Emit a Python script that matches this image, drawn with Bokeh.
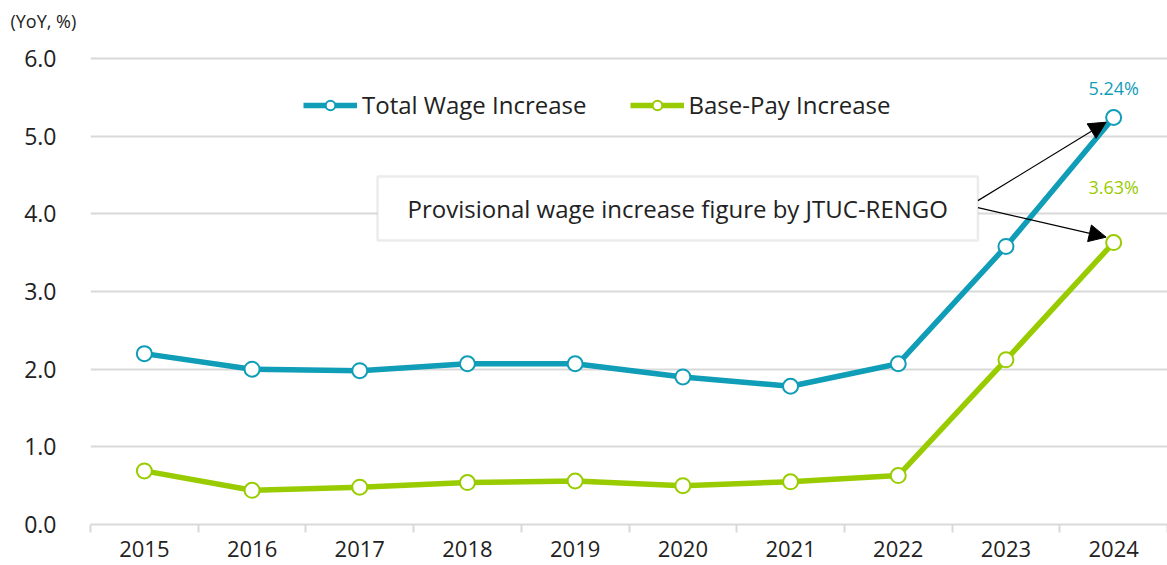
from bokeh.plotting import figure
from bokeh.models import (FixedTicker, NumeralTickFormatter, Legend, LegendItem,
                          Arrow, NormalHead, BoxAnnotation, Label, Range1d)
from bokeh.embed import file_html
from bokeh.resources import INLINE

years = [2015, 2016, 2017, 2018, 2019, 2020, 2021, 2022, 2023, 2024]
total_wage = [2.20, 2.00, 1.98, 2.07, 2.07, 1.90, 1.78, 2.07, 3.58, 5.24]
base_pay = [0.69, 0.44, 0.48, 0.54, 0.56, 0.50, 0.55, 0.63, 2.12, 3.63]
y_ticks = [0.0, 1.0, 2.0, 3.0, 4.0, 5.0, 6.0]
series_names = ["Total Wage Increase", "Base-Pay Increase"]
note_text = "Provisional wage increase figure by JTUC-RENGO"
unit_text = "(YoY, %)"

TEAL = "#0f9db7"
GREEN = "#99cc00"
TXT = "#222222"
GRID = "#d9d9d9"
FONT = "Open Sans"

FRAME_TOP = 34
p = figure(width=1167, height=565, output_backend="svg", toolbar_location=None,
           x_range=Range1d(years[0] - 0.5, years[-1] + 0.5),
           y_range=Range1d(0, 6.0 * (524 - FRAME_TOP) / 466.0),
           min_border_left=90, min_border_right=0, min_border_bottom=41,
           min_border_top=FRAME_TOP)

p.title.text = unit_text
p.title.text_font = FONT
p.title.text_font_size = "18px"
p.title.text_font_style = "normal"
p.title.text_color = TXT
p.title.align = "left"
p.title.offset = -80
p.title.standoff = 4

p.outline_line_color = None
p.background_fill_color = "white"

# x axis
xa = p.xaxis[0]
xa.ticker = FixedTicker(ticks=years, minor_ticks=[y - 0.5 for y in years] + [years[-1] + 0.5])
xa.major_label_overrides = {y: str(y) for y in years}
xa.major_tick_line_color = None
xa.major_tick_out = 0
xa.major_tick_in = 0
xa.minor_tick_line_color = GRID
xa.minor_tick_line_width = 2
xa.minor_tick_out = 8
xa.minor_tick_in = 0
xa.axis_line_color = GRID
xa.axis_line_width = 2
xa.major_label_text_font = FONT
xa.major_label_text_font_size = "22px"
xa.major_label_text_color = TXT
xa.major_label_standoff = 8

# y axis
ya = p.yaxis[0]
ya.ticker = FixedTicker(ticks=y_ticks)
ya.formatter = NumeralTickFormatter(format="0.0")
ya.axis_line_color = None
ya.major_tick_line_color = None
ya.minor_tick_line_color = None
ya.major_label_text_font = FONT
ya.major_label_text_font_size = "23px"
ya.major_label_text_color = TXT
ya.major_label_standoff = 28

p.xgrid.grid_line_color = None
p.ygrid.ticker = FixedTicker(ticks=y_ticks[1:])
p.ygrid.grid_line_color = GRID
p.ygrid.grid_line_width = 2

# series
l1 = p.line(years, total_wage, line_color=TEAL, line_width=5.5)
s1 = p.scatter(years, total_wage, size=15, fill_color="white", line_color=TEAL, line_width=2)
l2 = p.line(years, base_pay, line_color=GREEN, line_width=5.5)
s2 = p.scatter(years, base_pay, size=15, fill_color="white", line_color=GREEN, line_width=2)

legend = Legend(items=[LegendItem(label=series_names[0], renderers=[l1, s1]),
                       LegendItem(label=series_names[1], renderers=[l2, s2])],
                orientation="horizontal", location=(213, 403),
                glyph_width=54, glyph_height=24, label_standoff=5, spacing=43,
                padding=0, margin=0, border_line_color=None,
                background_fill_alpha=0,
                label_text_font=FONT, label_text_font_size="24px",
                label_text_color=TXT)
p.add_layout(legend, "center")

# note box
box = BoxAnnotation(left=2017.165, right=2022.74, top=4.48, bottom=3.657,
                    fill_color="white", fill_alpha=1.0,
                    line_color="#bfbfbf", line_width=2.5)
p.add_layout(box)
p.add_layout(Label(x=(2017.165 + 2022.74) / 2, y=(4.48 + 3.657) / 2, text=note_text,
                   text_align="center", text_baseline="middle",
                   text_font=FONT, text_font_size="24px", text_color=TXT))

# arrows
p.add_layout(Arrow(x_start=2022.74, y_start=4.17, x_end=years[-1] - 0.07, y_end=total_wage[-1] - 0.06,
                   line_color="black", line_width=1.2,
                   end=NormalHead(size=17, fill_color="black", line_color="black")))
p.add_layout(Arrow(x_start=2022.74, y_start=4.08, x_end=years[-1] - 0.07, y_end=base_pay[-1] + 0.07,
                   line_color="black", line_width=1.2,
                   end=NormalHead(size=17, fill_color="black", line_color="black")))

# value labels
p.add_layout(Label(x=years[-1], y=total_wage[-1] + 0.38, text=f"{total_wage[-1]:.2f}%",
                   text_align="center", text_baseline="middle",
                   text_font=FONT, text_font_size="18px", text_color=TEAL))
p.add_layout(Label(x=years[-1], y=base_pay[-1] + 0.71, text=f"{base_pay[-1]:.2f}%",
                   text_align="center", text_baseline="middle",
                   text_font=FONT, text_font_size="18px", text_color=GREEN))

open("out.html", "w").write(file_html(p, INLINE))
